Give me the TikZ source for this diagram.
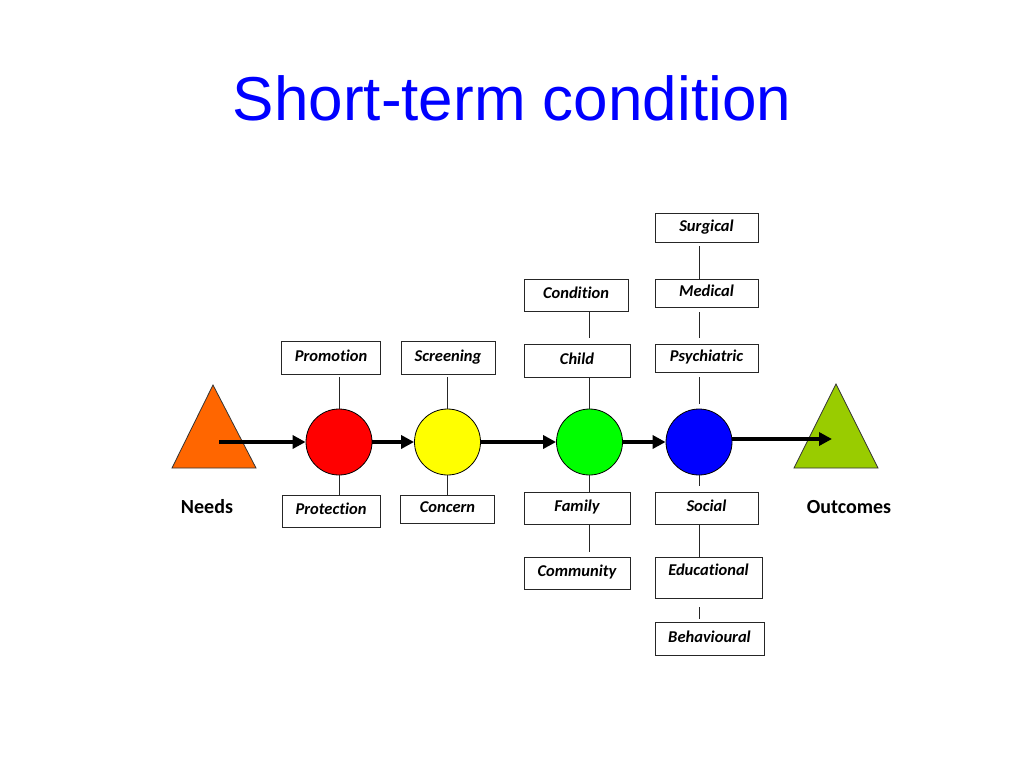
\documentclass[tikz,border=0pt]{standalone}
\usepackage{fontspec}
\setmainfont[Ligatures=NoCommon]{Carlito}
\newfontfamily\titlefont{Liberation Sans}
\usetikzlibrary{arrows.meta}
\definecolor{titleblue}{RGB}{0,0,255}
\definecolor{needsorange}{RGB}{255,102,0}
\definecolor{outgreen}{RGB}{153,204,0}
\definecolor{cred}{RGB}{255,0,0}
\definecolor{cyellow}{RGB}{255,255,0}
\definecolor{cgreen}{RGB}{0,255,0}
\definecolor{cblue}{RGB}{0,0,255}
\tikzset{
  lbox/.style={draw=black!85, line width=0.8pt, fill=white, inner sep=0pt,
    font=\fontsize{16.5}{19}\selectfont\bfseries\itshape,
    text height=11pt, text depth=4pt},
  stage/.style={circle, draw=black, line width=0.8pt, minimum size=66pt, inner sep=0pt},
  flow/.style={line width=3.6pt, -{Triangle[length=13pt,width=13pt]}},
  link/.style={line width=0.7pt, draw=black!85},
  endlabel/.style={font=\fontsize{20}{24}\selectfont\bfseries, anchor=base},
  tri/.style={draw=black!80, line width=0.8pt}
}
\begin{document}
\begin{tikzpicture}[x=1pt,y=-1pt]
\useasboundingbox[fill=white] (0,0) rectangle (1024,768);

% title
\node[anchor=base, text=titleblue, font=\fontsize{62}{70}\titlefont] (title) at (512,120) {Short-term condition};

% triangles
\filldraw[tri, fill=needsorange] (213,385) -- (256,468) -- (172,468) -- cycle;
\filldraw[tri, fill=outgreen] (836,384) -- (878,468) -- (794,468) -- cycle;
\coordinate (needsTip) at (219,442);
\coordinate (outTip) at (832,439);
\node[endlabel] (needs) at (207,513.3) {Needs};
\node[endlabel] (outcomes) at (849,513) {Outcomes};

% stage circles
\node[stage, fill=cred] (red) at (339,442) {};
\node[stage, fill=cyellow] (yel) at (447.5,442) {};
\node[stage, fill=cgreen] (grn) at (589.5,442) {};
\node[stage, fill=cblue] (blu) at (699,442) {};

% boxes
\node[lbox, minimum width=99pt, minimum height=33pt] (prom) at (331,357.5) {Promotion};
\node[lbox, minimum width=94pt, minimum height=33pt] (scr) at (448,357.5) {Screening};
\node[lbox, minimum width=98pt, minimum height=32pt] (prot) at (331,511) {Protection};
\node[lbox, minimum width=94pt, minimum height=28pt] (conc) at (447.5,509) {Concern};
\node[lbox, minimum width=104pt, minimum height=32pt] (cond) at (576,295) {Condition};
\node[lbox, minimum width=106pt, minimum height=33pt] (child) at (577,360.5) {Child};
\node[lbox, minimum width=103pt, minimum height=29pt] (surg) at (706.5,227.5) {Surgical};
\node[lbox, minimum width=103pt, minimum height=28pt] (med) at (706.5,293) {Medical};
\node[lbox, minimum width=103pt, minimum height=28pt] (psy) at (706.5,358) {Psychiatric};
\node[lbox, minimum width=106pt, minimum height=32pt] (fam) at (577,508) {Family};
\node[lbox, minimum width=106pt, minimum height=32pt] (comm) at (577,573) {Community};
\node[lbox, minimum width=103pt, minimum height=32pt] (soc) at (706.5,508) {Social};
\node[lbox, minimum width=107pt, minimum height=41pt, text depth=14.5pt] (edu) at (708.5,577.5) {Educational};
\node[lbox, minimum width=109pt, minimum height=33pt] (beh) at (709.5,638.5) {Behavioural};

% thin links
\draw[link, shorten >=3pt] (red.north) -- (red.north |- prom.south);
\draw[link] (red.south) -- (red.south |- prot.north);
\draw[link, shorten >=3pt] (yel.north) -- (yel.north |- scr.south);
\draw[link] (yel.south) -- (yel.south |- conc.north);
\draw[link, shorten >=1pt] (grn.north) -- (grn.north |- child.south);
\draw[link, shorten >=6pt] (cond.south -| grn) -- (child.north -| grn);
\draw[link] (grn.south) -- (grn.south |- fam.north);
\draw[link, shorten >=5pt] (fam.south -| grn) -- (comm.north -| grn);
\draw[link, shorten <=4pt] (surg.south -| blu) -- (med.north -| blu);
\draw[link, shorten <=5pt, shorten >=6pt] (med.south -| blu) -- (psy.north -| blu);
\draw[link, shorten <=5pt, shorten >=5pt] (psy.south -| blu) -- (blu.north);
\draw[link, shorten >=6pt] (blu.south) -- (blu.south |- soc.north);
\draw[link] (soc.south -| blu) -- (edu.north -| blu);
\draw[link, shorten <=9pt, shorten >=3pt] (edu.south -| blu) -- (beh.north -| blu);

% flow arrows
\draw[flow] (needsTip) -- (red.west);
\draw[flow] (red.east) -- (yel.west);
\draw[flow] (yel.east) -- (grn.west);
\draw[flow] (grn.east) -- (blu.west);
\draw[flow] (outTip -| blu.east) -- (outTip);
\end{tikzpicture}
\end{document}
